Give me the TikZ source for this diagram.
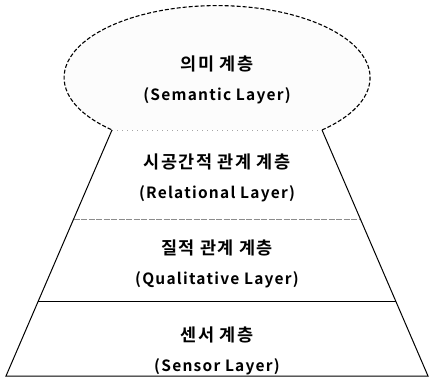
\documentclass[tikz,border=0pt]{standalone}
\usepackage{fontspec}
\setmainfont{Noto Sans CJK KR}[BoldFont={Noto Sans CJK KR Bold}, LetterSpace=8]
\newcommand{\kor}[1]{{\fontsize{17.5}{30}\selectfont #1}}
\usetikzlibrary{calc}
\tikzset{
  layertext/.style={font=\fontsize{15.5}{30}\selectfont\bfseries, align=center, inner sep=0pt},
  edge/.style={draw=black, line width=1pt},
  faint/.style={draw=black!45, line width=0.8pt, dash pattern=on 6pt off 1.5pt},
  cloud/.style={draw=black, line width=1.1pt, dash pattern=on 4pt off 2pt}
}
\begin{document}
\begin{tikzpicture}[x=1pt,y=1pt]
	\useasboundingbox (0,0) rectangle (430,388);
	% corners of the pyramid
	\coordinate (tl) at (112,258);
	\coordinate (tr) at (322,258);
	\coordinate (bl) at (6,12);
	\coordinate (br) at (428,12);
	\coordinate (ml1) at ($(tl)!0.362!(bl)$);
	\coordinate (mr1) at ($(tr)!0.362!(br)$);
	\coordinate (ml2) at ($(tl)!0.699!(bl)$);
	\coordinate (mr2) at ($(tr)!0.699!(br)$);
	% semantic cloud
	\fill[black!1] (tr) arc[start angle=-46.7, end angle=226.7, x radius=153, y radius=72] -- cycle;
	\draw[cloud] (tr) arc[start angle=-46.7, end angle=226.7, x radius=153, y radius=72];
	\draw[faint, black!35, dash pattern=on 1pt off 4pt] (tl) -- (tr);
	% pyramid
	\draw[edge] (tl) -- (bl) -- (br) -- (tr);
	\draw[faint] (ml1) -- (mr1);
	\draw[edge] (ml2) -- (mr2);
	% labels
	\node[layertext] (sem) at (217,308) {\kor{의미 계층}\\(Semantic Layer)};
	\node[layertext] (rel) at (217,210) {\kor{시공간적 관계 계층}\\(Relational Layer)};
	\node[layertext] (qual) at (217,124) {\kor{질적 관계 계층}\\(Qualitative Layer)};
	\node[layertext] (sens) at (217,37) {\kor{센서 계층}\\(Sensor Layer)};
\end{tikzpicture}
\end{document}
